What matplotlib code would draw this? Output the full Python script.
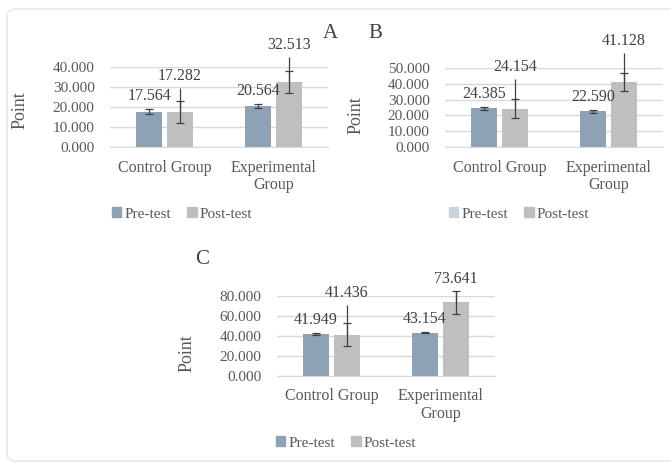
import matplotlib
matplotlib.use("Agg")
import matplotlib.pyplot as plt
from matplotlib.patches import FancyBboxPatch, Patch
import numpy as np

plt.rcParams['font.family'] = ['Liberation Serif', 'DejaVu Serif']

# data
groups = ["Control Group", "Experimental\nGroup"]
series_names = ["Pre-test", "Post-test"]

pre_a = [17.564, 20.564]
post_a = [17.282, 32.513]
pre_err_a = [1.2, 1.0]
post_err_a = [5.5, 5.5]
post_whisk_a = [12.2, 12.5]

pre_b = [24.385, 22.590]
post_b = [24.154, 41.128]
pre_err_b = [0.8, 0.8]
post_err_b = [6.0, 6.0]
post_whisk_b = [18.8, 18.4]

pre_c = [41.949, 43.154]
post_c = [41.436, 73.641]
pre_err_c = [0.6, 0.6]
post_err_c = [11.7, 11.3]
post_whisk_c = [29.5, 11.3]

PRE_COLOR = '#8EA2B5'
POST_COLOR = '#BFBFBF'
GRID = '#D9D9D9'
TXT = '#595959'
W, H = 671, 463


def px_box(x0, x1, y_top, y_bot):
    return [x0 / W, 1 - y_bot / H, (x1 - x0) / W, (y_bot - y_top) / H]


def draw_panel(ax, pre, post, pre_err, post_err, post_whisk, ymax, step, label_xy):
    x = np.arange(len(groups))
    bw, off = 0.23, 0.142
    ax.bar(x - off, pre, bw, color=PRE_COLOR, zorder=2)
    ax.bar(x + off, post, bw, color=POST_COLOR, zorder=2)
    ax.errorbar(x - off, pre, yerr=pre_err, fmt='none', ecolor='#404040',
                elinewidth=0.9, capsize=3, capthick=0.9, zorder=3)
    ax.errorbar(x + off, post, yerr=post_err, fmt='none', ecolor='#404040',
                elinewidth=0.9, capsize=3, capthick=0.9, zorder=3)
    # longer upper whisker on the post-test bars
    ax.vlines(x + off, post, np.array(post) + np.array(post_whisk),
              color='#404040', lw=0.9, zorder=3)

    tops_pre = np.array(pre) + np.array(pre_err)
    tops_post = np.array(post) + np.maximum(post_err, post_whisk)
    for xi, v, t in zip(x - off, pre, tops_pre):
        ax.annotate(f"{v:.3f}", (xi, t), xytext=(0, 13), textcoords='offset pixels',
                    ha='center', va='center', fontsize=11.5, color='#404040',
                    annotation_clip=False)
    for xi, v, t in zip(x + off, post, tops_post):
        ax.annotate(f"{v:.3f}", (xi, t), xytext=(0, 12), textcoords='offset pixels',
                    ha='center', va='center', fontsize=11.5, color='#404040',
                    annotation_clip=False)

    ax.set_xlim(-0.5, 1.5)
    ax.set_ylim(0, ymax)
    ticks = np.arange(0, ymax + 0.1, step)
    ax.set_yticks(ticks)
    ax.set_yticklabels([f"{v:.3f}" for v in ticks])
    ax.set_xticks(x)
    ax.set_xticklabels(groups, linespacing=1.15)
    ax.tick_params(axis='y', length=0, pad=11, labelsize=11, labelcolor=TXT)
    ax.tick_params(axis='x', length=0, pad=9, labelsize=11.5, labelcolor=TXT)
    ax.grid(axis='y', color=GRID, lw=1, zorder=0)
    for s in ['top', 'right', 'left']:
        ax.spines[s].set_visible(False)
    ax.spines['bottom'].set_color(GRID)
    ax.set_ylabel("Point", fontsize=13, color=TXT)
    ax.yaxis.set_label_coords(*label_xy)
    ax.set_facecolor('none')
    for art in ax.collections + ax.patches + ax.lines:
        art.set_clip_on(False)


fig = plt.figure(figsize=(W / 100, H / 100), dpi=100)

frame = FancyBboxPatch((7 / W, 1 - 461 / H), 700 / W, 452 / H,
                       boxstyle="round,pad=0,rounding_size=0.015",
                       transform=fig.transFigure, facecolor='none',
                       edgecolor='#ECECEC', lw=1.5, zorder=-1)
fig.patches.append(frame)

ax_a = fig.add_axes(px_box(110, 328, 67, 147))
draw_panel(ax_a, pre_a, post_a, pre_err_a, post_err_a, post_whisk_a, 40, 10, (-0.376, 0.46))
ax_b = fig.add_axes(px_box(445, 663, 68, 147))
draw_panel(ax_b, pre_b, post_b, pre_err_b, post_err_b, post_whisk_b, 50, 10, (-0.367, 0.40))
ax_c = fig.add_axes(px_box(277, 495, 296, 376))
draw_panel(ax_c, pre_c, post_c, pre_err_c, post_err_c, post_whisk_c, 80, 20, (-0.376, 0.29))

fig.text(330 / W, 1 - 33 / H, "A", fontsize=15, color='#404040', ha='center', va='center')
fig.text(375 / W, 1 - 33 / H, "B", fontsize=15, color='#404040', ha='center', va='center')
fig.text(202 / W, 1 - 260 / H, "C", fontsize=15, color='#404040', ha='center', va='center')

legend_specs = [(182, 214, PRE_COLOR), (519, 214, '#C9D3DD'), (346, 443, PRE_COLOR)]
for cx, cy, pre_col in legend_specs:
    handles = [Patch(color=pre_col, label=series_names[0]),
               Patch(color=POST_COLOR, label=series_names[1])]
    fig.legend(handles=handles, loc='center', bbox_to_anchor=(cx / W, 1 - cy / H),
               ncol=2, frameon=False, fontsize=11, labelcolor=TXT,
               handlelength=0.6, handleheight=0.6, handletextpad=0.2,
               columnspacing=1.1, borderpad=0)

fig.savefig("out.png", dpi=100)
